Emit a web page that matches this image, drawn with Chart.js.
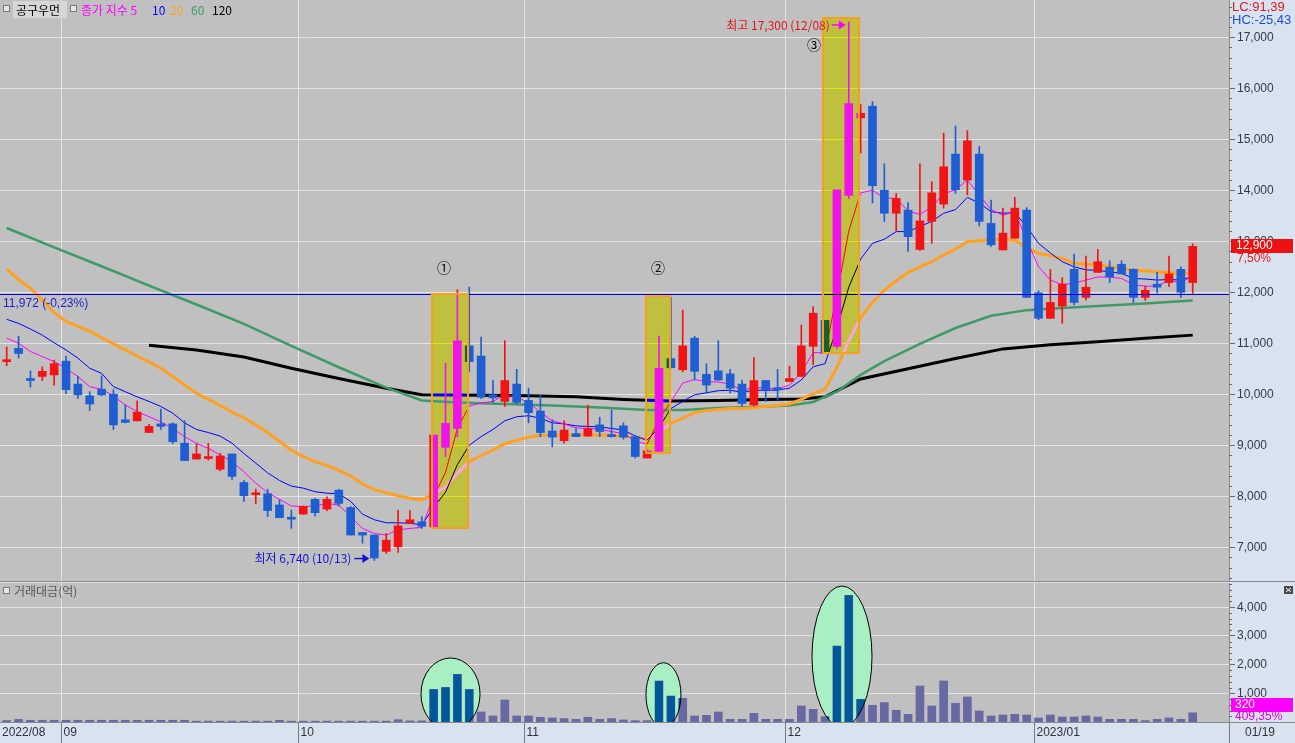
<!DOCTYPE html>
<html><head><meta charset="utf-8">
<script src="https://cdn.jsdelivr.net/npm/chart.js@4.4.0/dist/chart.umd.min.js"></script>
<style>
html,body{margin:0;padding:0;background:#d9e3ef;overflow:hidden;}
#wrap{position:relative;width:1295px;height:743px;}
#c1{position:absolute;left:0;top:0;}
#c2{position:absolute;left:0;top:581px;}
</style></head>
<body><div id="wrap"><canvas id="c1" width="1295" height="581"></canvas><canvas id="c2" width="1295" height="162"></canvas></div>
<script>
// ---------------- DATA ----------------
const opens  = [10640,10900,10280,10350,10380,10650,10200,9970,10100,10000,9500,9480,9250,9420,9420,9040,8730,8740,8530,8830,8270,8030,8050,7830,7560,7650,7940,7750,8120,7780,7290,7240,6920,7010,7470,7500,7400,8960,9330,10950,10750,9990,9860,10200,9880,9670,9280,9090,9230,9180,9400,9200,9380,9170,8750,8880,10700,10480,11100,10390,10460,10400,10200,9790,10270,10100,10250,10350,10940,11450,10940,13900,15420,15650,14000,13550,13610,12840,13390,13730,14710,14200,14710,13350,12830,13060,13610,11990,11490,11730,12450,11900,12390,12490,12550,12450,11900,12160,12190,12450,12190];
const highs  = [10930,11140,10460,10540,10670,10750,10350,10050,10360,10090,9790,9870,9410,9710,9440,9480,9030,9040,8840,8830,8310,8140,8140,7930,7730,7810,7960,7990,8140,7800,7290,7240,7270,7730,7720,7600,9200,10610,12050,12100,11120,10270,11050,10490,10120,9990,9500,9480,9330,9790,9550,9690,9440,9200,8910,11140,11900,11650,11140,10600,11050,10490,10280,10720,10270,10490,10550,11360,11720,11450,14010,17300,15680,15740,14520,13940,13760,14520,14170,15120,15260,15170,14860,13810,13650,13860,13660,12030,12450,12290,12750,12710,12840,12620,12620,12460,12120,12390,12710,12500,12950];
const lows   = [10560,10710,10140,10270,10180,10010,9920,9680,9970,9310,9440,9480,9250,9310,9030,8700,8730,8710,8500,8330,7900,7850,7600,7580,7370,7650,7610,7720,7810,7240,7080,6740,6880,6900,7470,7370,7370,8780,9170,10440,9920,9840,9760,9810,9440,9170,8970,9040,9170,9180,9170,9160,9120,8750,8750,8880,10510,10440,10280,10020,10270,10020,9760,9760,9860,9890,10250,10350,10580,10800,10900,13840,14730,13750,13390,13190,12800,12820,12960,13650,13940,13910,13300,12900,12830,13060,11900,11460,11490,11390,11750,11850,12390,12190,12360,11800,11840,11990,12110,11900,11980];
const closes = [10650,10800,10270,10450,10600,10090,9990,9810,9990,9400,9450,9650,9370,9370,9070,8700,8830,8750,8790,8390,8010,8040,7720,7580,7550,7800,7680,7940,7860,7240,7240,6790,7140,7420,7540,7410,9200,9430,11050,10640,9940,9930,10270,9840,9640,9250,9160,9300,9170,9330,9270,9170,9160,8780,8890,10510,10520,10950,10450,10180,10280,10120,9820,10270,10090,10090,10310,10950,11590,10800,14010,15700,15510,14090,13550,13840,13090,13400,13950,14460,14010,14970,13390,12930,13160,13650,11900,11490,11800,12160,11800,12100,12600,12300,12360,11900,12040,12100,12360,12000,12900];
// 거래대금(억)
const tradeValue = [50,90,60,60,60,60,60,60,60,60,60,60,60,60,60,60,30,30,30,30,30,30,30,60,30,30,30,30,30,30,30,30,30,80,40,40,1136,1206,1660,1136,350,210,767,210,210,164,141,118,94,164,94,118,71,48,48,1429,906,826,210,232,348,94,94,302,94,94,94,558,442,187,2648,4415,791,582,675,408,268,1254,558,1429,652,872,384,210,244,268,244,141,244,174,174,210,174,94,94,94,48,94,141,94,320];
// 종가 지수(EMA) lines
const ma5  = [11100,11000,10840,10740,10640,10510,10350,10150,10100,9970,9790,9660,9560,9460,9330,9170,9040,8940,8810,8680,8480,8260,8070,7940,7810,7800,7810,7860,7830,7600,7370,7270,7240,7340,7370,7390,7990,8470,9330,9770,9830,9860,9990,9940,9840,9650,9480,9420,9340,9330,9310,9270,9230,9080,9020,9510,9850,10220,10290,10250,10240,10200,10070,10140,10120,10110,10180,10430,10820,10810,11950,13200,13950,14000,13850,13840,13590,13530,13670,13930,14010,14200,13910,13620,13510,13580,13030,12500,12240,12150,12180,12240,12300,12300,12270,12150,12120,12120,12240,12180,12330];
const ma10 = [11470,11390,11280,11160,11010,10870,10710,10510,10410,10150,10050,9950,9860,9760,9630,9440,9310,9250,9180,9040,8840,8650,8460,8310,8200,8160,8090,8060,8050,7900,7650,7540,7480,7480,7470,7440,7780,8080,8620,9000,9170,9310,9480,9560,9580,9530,9440,9420,9380,9370,9360,9330,9300,9180,9100,9350,9720,9860,9990,10030,10070,10080,10040,10080,10080,10080,10120,10280,10540,10600,11300,12100,12650,12960,13040,13190,13190,13290,13390,13550,13620,13860,13750,13580,13550,13560,13290,12960,12770,12600,12500,12440,12430,12400,12370,12270,12260,12240,12250,12240,12310];
const ma20 = [12460,12250,12080,11850,11600,11430,11330,11240,11110,10990,10870,10750,10630,10510,10350,10180,10020,9900,9780,9650,9540,9400,9250,9080,8900,8780,8680,8600,8510,8400,8240,8130,8070,8010,7960,7930,8050,8180,8450,8680,8800,8910,9030,9100,9160,9190,9200,9200,9200,9200,9200,9190,9180,9150,9120,9250,9430,9530,9640,9680,9700,9720,9720,9740,9760,9780,9810,9900,10010,10100,10530,11050,11500,11800,12040,12220,12390,12500,12600,12730,12850,12990,13010,13030,13030,13020,12880,12760,12720,12660,12570,12550,12540,12500,12470,12430,12420,12400,12390,12370,12380];
const ma60Idx = [0,4,8,12,16,20,24,28,32,35,38,42,46,50,54,57,60,63,66,68,70,72,74,77,80,83,86,89,92,96,100];
const ma60Val = [13260,12880,12510,12130,11760,11380,10950,10530,10130,9880,9840,9810,9780,9740,9690,9690,9730,9750,9780,9850,10050,10380,10650,10990,11300,11540,11650,11690,11730,11780,11840];
const ma120Idx = [12,16,20,24,28,32,35,40,44,48,52,56,60,64,67,69,72,76,80,84,88,92,96,100];
const ma120Val = [10960,10870,10730,10510,10310,10120,9990,9980,9970,9950,9900,9870,9880,9900,9910,9950,10300,10500,10700,10890,10970,11030,11100,11160];
const priceTicks = [7000,8000,9000,10000,11000,12000,13000,14000,15000,16000,17000];
const volumeTicks = [1000,2000,3000,4000];
const monthLabels = ['09','10','11','12','2023/01'];
const monthStartIndex = [5,25,44,66,87];
const firstMonthLabel = '2022/08';
const lastDateLabel = '01/19';
const refLine = 11972;
const highMark = {index:71, value:17300, text:'최고 17,300 (12/08)'};
const lowMark  = {index:31, value:6740,  text:'최저 6,740 (10/13)'};

// ---------------- STYLE / LAYOUT ----------------
const NUM_FONT = "'Liberation Sans','DejaVu Sans',sans-serif";
const KR_FONT = "'Noto Sans CJK KR','Noto Sans',sans-serif";
const PLOT_BG = '#c0c0c0', AXIS_BG = '#d9e3ef', GRID = '#e3e3e3';
const RED = '#f01414', BLUE = '#1e5ed2';
const X_MIN = -0.565, X_MAX = 103.06, MONTH_SHIFT = -0.4;
const boxes = [
  {i0:35.87, i1:38.9, p0:7378, p1:11967, tag:'①', tx:-6, ty:-26, center:true},
  {i0:53.9, i1:55.9, p0:8843, p1:11928, tag:'②', tx:0, ty:-28, center:true},
  {i0:68.86, i1:71.9, p0:10816, p1:17373, tag:'③', tx:-9, ty:27, center:false}
];
const volEllipses = [
  {i0:34.93, i1:39.91, v0:-280, v1:2230},
  {i0:53.9, i1:56.85, v0:-175, v1:2066},
  {i0:67.9, i1:72.96, v0:-175, v1:4739}
];

const idx = closes.map((_, i) => i);
const candleCol = idx.map(i => closes[i] >= opens[i] ? RED : BLUE);
const fmt = v => v.toLocaleString('en-US');

function yAxisFit(scale){ scale.width = 66; scale.paddingTop = 0; scale.paddingBottom = 0; }

function line(ctx,x1,y1,x2,y2){ ctx.beginPath(); ctx.moveTo(x1,y1); ctx.lineTo(x2,y2); ctx.stroke(); }
function arrow(ctx,x1,x2,y,col){
  ctx.save(); ctx.strokeStyle=col; ctx.fillStyle=col; ctx.lineWidth=1.5;
  line(ctx,x1,y,x2-5,y);
  ctx.beginPath(); ctx.moveTo(x2,y); ctx.lineTo(x2-7,y-4.5); ctx.lineTo(x2-7,y+4.5); ctx.closePath(); ctx.fill();
  ctx.restore();
}
function legendIcon(ctx,x,y){
  ctx.save(); ctx.fillStyle='#e6e6e6'; ctx.fillRect(x,y,6,6); ctx.strokeStyle='#7a7a7a'; ctx.lineWidth=1; ctx.strokeRect(x+0.5,y+0.5,6,6); ctx.restore();
}
function minorTicks(ctx, ys, from, to, step, major, x){
  ctx.save(); ctx.strokeStyle='#6a6a6a'; ctx.lineWidth=1;
  for(let v=from; v<=to; v+=step){ if(v % major === 0) continue; const y=Math.round(ys.getPixelForValue(v))+0.5; if(y<ys.top||y>ys.bottom) continue; line(ctx,x,y,x+3,y); }
  ctx.restore();
}

// ---------------- PRICE PANEL ----------------
const pricePlugin = {
  id:'pricePanel',
  beforeDraw(chart){
    const {ctx, chartArea:a} = chart;
    ctx.save(); ctx.fillStyle=AXIS_BG; ctx.fillRect(0,0,chart.width,chart.height);
    ctx.fillStyle=PLOT_BG; ctx.fillRect(a.left,a.top,a.right-a.left,a.bottom-a.top); ctx.restore();
  },
  beforeDatasetsDraw(chart){
    const {ctx, chartArea:a, scales:{x:xs}} = chart;
    ctx.save(); ctx.strokeStyle=GRID; ctx.lineWidth=1;
    monthStartIndex.forEach(i=>{ const x=Math.round(xs.getPixelForValue(i+MONTH_SHIFT))+0.5; line(ctx,x,a.top,x,a.bottom); });
    ctx.restore();
  },
  afterDatasetsDraw(chart){
    const {ctx, chartArea:a, scales:{x:xs, y:ys}} = chart;
    ctx.save();
    const yr = Math.round(ys.getPixelForValue(refLine))+0.5;
    ctx.strokeStyle='#0000ff'; ctx.lineWidth=1; line(ctx,a.left,yr,a.right,yr);
    ctx.globalCompositeOperation='difference'; ctx.fillStyle='#0000ff';
    boxes.forEach(b=>{ const x0=xs.getPixelForValue(b.i0), x1=xs.getPixelForValue(b.i1), y0=ys.getPixelForValue(b.p1), y1=ys.getPixelForValue(b.p0);
      ctx.fillRect(Math.round(x0),Math.round(y0),Math.round(x1-x0),Math.round(y1-y0)); });
    ctx.globalCompositeOperation='source-over';
    ctx.strokeStyle='#f5a21a'; ctx.lineWidth=2;
    ctx.font="14px "+KR_FONT; ctx.fillStyle='#000'; ctx.textBaseline='middle'; ctx.textAlign='center';
    boxes.forEach(b=>{ const x0=Math.round(xs.getPixelForValue(b.i0)), x1=Math.round(xs.getPixelForValue(b.i1)), y0=Math.round(ys.getPixelForValue(b.p1)), y1=Math.round(ys.getPixelForValue(b.p0));
      ctx.strokeRect(x0,y0,x1-x0,y1-y0);
      const tx = b.center ? (x0+x1)/2 + b.tx : x0 + b.tx;
      ctx.fillText(b.tag, tx, y0 + b.ty); });
    ctx.font="12px "+NUM_FONT; ctx.textAlign='left'; ctx.fillStyle='#1f1fc8';
    ctx.fillText(fmt(refLine)+' (-0,23%)', 3, yr+9);
    ctx.font="12px "+KR_FONT;
    const hx = xs.getPixelForValue(highMark.index)-3, hy = ys.getPixelForValue(highMark.value)+3;
    arrow(ctx, hx-14, hx, hy, '#ff00ff');
    ctx.fillStyle='#e01818'; ctx.textAlign='right'; ctx.fillText(highMark.text, hx-16, hy);
    const lx = xs.getPixelForValue(lowMark.index)-5, ly = ys.getPixelForValue(lowMark.value)-2;
    arrow(ctx, lx-15, lx, ly, '#1414d0');
    ctx.fillStyle='#1414d0'; ctx.fillText(lowMark.text, lx-18, ly);
    legendIcon(ctx,3,5);
    ctx.fillStyle='#d6d6d6'; ctx.fillRect(13,1,54,17);
    ctx.textAlign='left'; ctx.fillStyle='#000'; ctx.fillText('공구우먼',16,10);
    legendIcon(ctx,70,5);
    const parts=[['종가 지수 5','#ff00ff',81],['10','#0000ff',152],['20','#ffa020',170],['60','#3f9a68',191],['120','#000000',212]];
    parts.forEach(p=>{ ctx.fillStyle=p[1]; ctx.fillText(p[0],p[2],10); });
    ctx.restore();
  },
  afterDraw(chart){
    const {ctx, scales:{y:ys}} = chart;
    minorTicks(ctx, ys, 6400, 17600, 200, 1000, ys.left);
    ctx.save(); ctx.textBaseline='middle'; ctx.textAlign='left'; ctx.font="13px "+NUM_FONT;
    ctx.fillStyle='#e01818'; ctx.fillText('LC:91,39',1232,7);
    ctx.fillStyle='#1a4fd0'; ctx.fillText('HC:-25,43',1232,20);
    const cy = ys.getPixelForValue(closes[closes.length-1]);
    ctx.fillStyle='#ee1111'; ctx.fillRect(1231,Math.round(cy)-7,62,14);
    ctx.fillStyle='#ffffff'; ctx.font="12px "+NUM_FONT; ctx.fillText(fmt(closes[closes.length-1]),1236,Math.round(cy));
    ctx.fillStyle='#e01818'; ctx.fillText('7,50%',1237,Math.round(cy)+13);
    ctx.restore();
  }
};

new Chart(document.getElementById('c1'), {
  type:'bar',
  data:{ datasets:[
    {type:'line', label:'120', data:ma120Idx.map((x,k)=>({x, y:ma120Val[k]})), borderColor:'#000000', borderWidth:3, pointRadius:0, tension:0, order:10},
    {type:'line', label:'60', data:ma60Idx.map((x,k)=>({x, y:ma60Val[k]})), borderColor:'#3f9a68', borderWidth:2.5, pointRadius:0, tension:0, order:9},
    {type:'line', label:'20', data:idx.map(i=>({x:i, y:ma20[i]})), borderColor:'#ffa020', borderWidth:3, pointRadius:0, tension:0, order:8},
    {type:'line', label:'10', data:idx.map(i=>({x:i, y:ma10[i]})), borderColor:'#0000ff', borderWidth:1, pointRadius:0, tension:0, order:7},
    {type:'line', label:'5', data:idx.map(i=>({x:i, y:ma5[i]})), borderColor:'#ff00ff', borderWidth:1, pointRadius:0, tension:0, order:6},
    {label:'wick', data:idx.map(i=>({x:i, y:[lows[i], highs[i]]})), backgroundColor:candleCol, barThickness:1, grouped:false, borderWidth:0, order:2},
    {label:'body', data:idx.map(i=>({x:i, y:[opens[i], closes[i]]})), backgroundColor:candleCol, barThickness:8, minBarLength:2, grouped:false, borderWidth:0, order:1}
  ]},
  options:{
    responsive:false, animation:false, devicePixelRatio:1, events:[],
    layout:{padding:0},
    plugins:{legend:{display:false}, tooltip:{enabled:false}},
    scales:{
      x:{type:'linear', min:X_MIN, max:X_MAX, offset:false, bounds:'ticks', display:false},
      y:{type:'linear', position:'right', min:6339, max:17731,
         afterBuildTicks:s=>{ s.ticks = priceTicks.map(v=>({value:v})); },
         afterFit:yAxisFit,
         grid:{color:GRID, lineWidth:1, tickColor:'#6a6a6a', tickLength:6, drawTicks:true},
         border:{display:true, color:'#8c8c8c'},
         ticks:{callback:v=>fmt(v), color:'#333a48', font:{family:NUM_FONT, size:12}, padding:2}}
    }
  },
  plugins:[pricePlugin]
});

// ---------------- VOLUME PANEL ----------------
const volPlugin = {
  id:'volPanel',
  beforeDraw(chart){
    const {ctx, chartArea:a} = chart;
    ctx.save(); ctx.fillStyle=AXIS_BG; ctx.fillRect(0,0,chart.width,chart.height);
    ctx.fillStyle='#8a8a8a'; ctx.fillRect(0,0,chart.width,1);
    ctx.fillStyle=PLOT_BG; ctx.fillRect(a.left,a.top,a.right-a.left,a.bottom-a.top);
    ctx.restore();
  },
  beforeDatasetsDraw(chart){
    const {ctx, chartArea:a, scales:{x:xs, y:ys}} = chart;
    ctx.save(); ctx.strokeStyle=GRID; ctx.lineWidth=1;
    monthStartIndex.forEach(i=>{ const x=Math.round(xs.getPixelForValue(i+MONTH_SHIFT))+0.5; line(ctx,x,a.top,x,a.bottom); });
    ctx.beginPath(); ctx.rect(a.left,a.top,a.right-a.left,a.bottom-a.top); ctx.clip();
    ctx.fillStyle='#a8f0c4';
    volEllipses.forEach(e=>{ const x0=xs.getPixelForValue(e.i0), x1=xs.getPixelForValue(e.i1), y0=ys.getPixelForValue(e.v1), y1=ys.getPixelForValue(e.v0);
      ctx.beginPath(); ctx.ellipse((x0+x1)/2,(y0+y1)/2,(x1-x0)/2,(y1-y0)/2,0,0,Math.PI*2); ctx.fill(); });
    ctx.restore();
  },
  afterDatasetsDraw(chart){
    const {ctx, chartArea:a, scales:{x:xs, y:ys}} = chart;
    const bars = chart.getDatasetMeta(0).data;
    ctx.save(); ctx.beginPath(); ctx.rect(a.left,a.top,a.right-a.left,a.bottom-a.top); ctx.clip();
    volEllipses.forEach(e=>{ const x0=xs.getPixelForValue(e.i0), x1=xs.getPixelForValue(e.i1), y0=ys.getPixelForValue(e.v1), y1=ys.getPixelForValue(e.v0);
      ctx.save(); ctx.beginPath(); ctx.ellipse((x0+x1)/2,(y0+y1)/2,(x1-x0)/2,(y1-y0)/2,0,0,Math.PI*2); ctx.clip();
      ctx.fillStyle='#00579a';
      bars.forEach(b=>{ const p=b.getProps(['x','y','base','width']); ctx.fillRect(p.x-p.width/2,p.y,p.width,p.base-p.y); });
      ctx.restore();
      ctx.strokeStyle='#000'; ctx.lineWidth=1;
      ctx.beginPath(); ctx.ellipse((x0+x1)/2,(y0+y1)/2,(x1-x0)/2,(y1-y0)/2,0,0,Math.PI*2); ctx.stroke(); });
    ctx.restore();
  },
  afterDraw(chart){
    const {ctx, chartArea:a, scales:{x:xs, y:ys}} = chart;
    minorTicks(ctx, ys, 200, 4800, 200, 1000, ys.left);
    ctx.save(); ctx.textBaseline='middle'; ctx.textAlign='left';
    legendIcon(ctx,3,6);
    ctx.font="12px "+KR_FONT; ctx.fillStyle='#555a60'; ctx.fillText('거래대금(억)',14,10);
    ctx.fillStyle='#4a4a4a'; ctx.fillRect(1284,5,9,8);
    ctx.strokeStyle='#fff'; ctx.lineWidth=1; line(ctx,1286,7,1291,11); line(ctx,1291,7,1286,11);
    const last = tradeValue[tradeValue.length-1];
    const vy = Math.round(ys.getPixelForValue(last));
    ctx.fillStyle='#ff00ff'; ctx.fillRect(1231,vy-15,62,14);
    ctx.fillStyle='#fff'; ctx.font="12px "+NUM_FONT; ctx.fillText(fmt(last),1235,vy-8);
    ctx.fillStyle='#e000e0'; ctx.fillText('409,35%',1235,vy+4);
    const sy = a.bottom;
    ctx.fillStyle=AXIS_BG; ctx.fillRect(0,sy,chart.width,chart.height-sy);
    ctx.fillStyle='#8a8a8a'; ctx.fillRect(0,sy,chart.width,1);
    ctx.strokeStyle='#7a7a7a'; ctx.lineWidth=1;
    ctx.fillStyle='#30323a'; ctx.font="12px "+NUM_FONT;
    ctx.fillText(firstMonthLabel,2,sy+11);
    monthStartIndex.forEach((i,k)=>{ const x=Math.round(xs.getPixelForValue(i+MONTH_SHIFT))+0.5; line(ctx,x,sy,x,chart.height); ctx.fillText(monthLabels[k],x+2,sy+11); });
    const ax = Math.round(a.right)+0.5; line(ctx,ax,sy,ax,chart.height);
    ctx.fillText(lastDateLabel,1245,sy+11);
    ctx.restore();
  }
};

new Chart(document.getElementById('c2'), {
  type:'bar',
  data:{ datasets:[
    {label:'거래대금', data:idx.map(i=>({x:i, y:tradeValue[i]})), backgroundColor:'#6868a2', barThickness:8, grouped:false, borderWidth:0}
  ]},
  options:{
    responsive:false, animation:false, devicePixelRatio:1, events:[],
    layout:{padding:{top:2, bottom:21, left:0, right:0}},
    plugins:{legend:{display:false}, tooltip:{enabled:false}},
    scales:{
      x:{type:'linear', min:X_MIN, max:X_MAX, offset:false, bounds:'ticks', display:false},
      y:{type:'linear', position:'right', min:0, max:4843,
         afterBuildTicks:s=>{ s.ticks = volumeTicks.map(v=>({value:v})); },
         afterFit:yAxisFit,
         grid:{color:GRID, lineWidth:1, tickColor:'#6a6a6a', tickLength:6, drawTicks:true},
         border:{display:true, color:'#8c8c8c'},
         ticks:{callback:v=>fmt(v), color:'#333a48', font:{family:NUM_FONT, size:12}, padding:2}}
    }
  },
  plugins:[volPlugin]
});
</script>
</body></html>
